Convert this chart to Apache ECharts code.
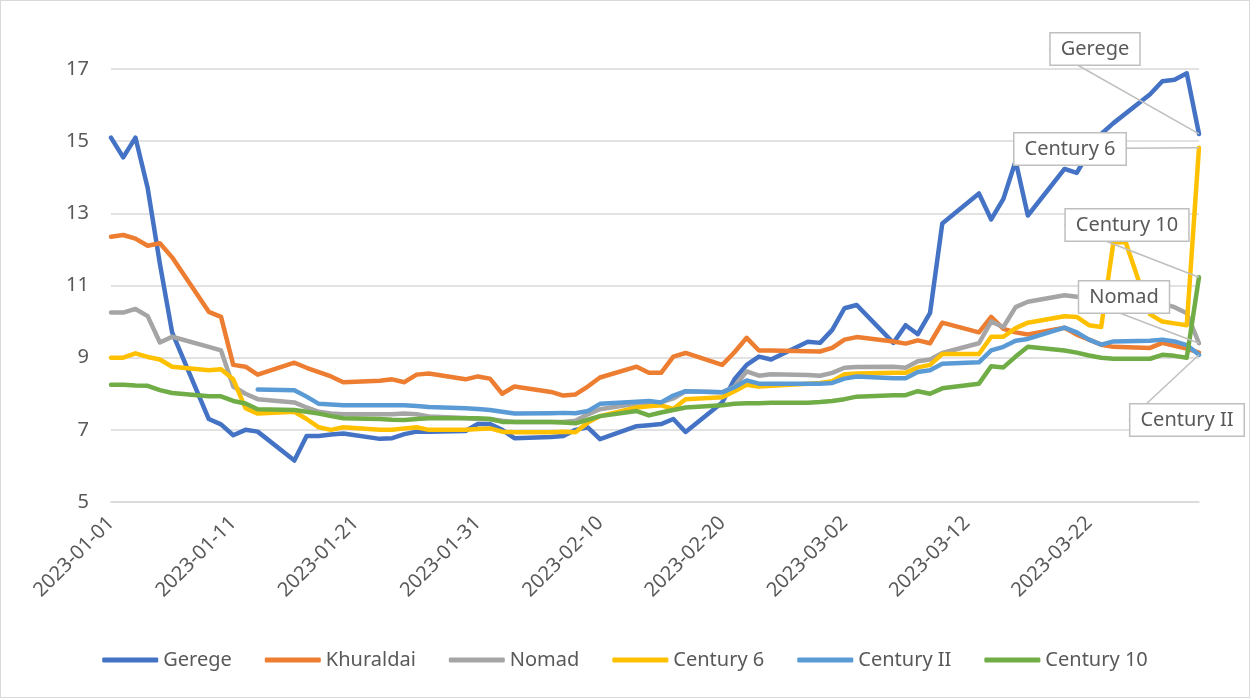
<!DOCTYPE html>
<html>
<head>
<meta charset="utf-8">
<script src="https://cdn.jsdelivr.net/npm/echarts@6/dist/echarts.min.js"></script>
<style>
  html, body { margin: 0; padding: 0; background: #fff; }
  #chart { width: 1250px; height: 698px; box-sizing: border-box; border: 1px solid #d9d9d9; }
</style>
</head>
<body>
<div id="chart"></div>
<script>
// trading days shown in the sheet
var dates = [
    '2023-01-01', '2023-01-02', '2023-01-03', '2023-01-04', '2023-01-05', '2023-01-06',
    '2023-01-09', '2023-01-10', '2023-01-11', '2023-01-12', '2023-01-13',
    '2023-01-16', '2023-01-17', '2023-01-18', '2023-01-19', '2023-01-20',
    '2023-01-23', '2023-01-24', '2023-01-25', '2023-01-26', '2023-01-27',
    '2023-01-30', '2023-01-31', '2023-02-01', '2023-02-02', '2023-02-03',
    '2023-02-06', '2023-02-07', '2023-02-08', '2023-02-09', '2023-02-10',
    '2023-02-13', '2023-02-14', '2023-02-15', '2023-02-16', '2023-02-17',
    '2023-02-20', '2023-02-21', '2023-02-22', '2023-02-23', '2023-02-24',
    '2023-02-27', '2023-02-28', '2023-03-01', '2023-03-02', '2023-03-03',
    '2023-03-06', '2023-03-07', '2023-03-08', '2023-03-09', '2023-03-10',
    '2023-03-13', '2023-03-14', '2023-03-15', '2023-03-16', '2023-03-17',
    '2023-03-20', '2023-03-21', '2023-03-22', '2023-03-23', '2023-03-24', '2023-03-25',
    '2023-03-27', '2023-03-28', '2023-03-29', '2023-03-30', '2023-03-31'
];

var gerege = [
    15.1, 14.55, 15.1, 13.7, 11.6, 9.7,
    7.3, 7.15, 6.85, 7.0, 6.95,
    6.15, 6.83, 6.83, 6.87, 6.9,
    6.75, 6.77, 6.88, 6.95, 6.95,
    6.97, 7.16, 7.16, 7.0, 6.77,
    6.8, 6.83, 7.0, 7.07, 6.74,
    7.1, 7.13, 7.16, 7.3, 6.94,
    7.76, 8.4, 8.8, 9.03, 8.95,
    9.44, 9.41, 9.77, 10.37, 10.46,
    9.41, 9.9, 9.65, 10.24, 12.72,
    13.55, 12.83, 13.4, 14.45, 12.94,
    14.23, 14.12, 14.7, 15.2, 15.5, null,
    16.3, 16.66, 16.7, 16.88, 15.2
];
var khuraldai = [
    12.35, 12.4, 12.3, 12.1, 12.17, 11.78,
    10.27, 10.13, 8.8, 8.75, 8.53,
    8.86, 8.72, 8.6, 8.48, 8.32,
    8.36, 8.4, 8.32, 8.53, 8.56,
    8.4, 8.48, 8.42, 8.0, 8.2,
    8.05, 7.95, 7.98, 8.2, 8.45,
    8.75, 8.58, 8.58, 9.03, 9.13,
    8.8, 9.15, 9.55, 9.2, 9.2,
    9.18, 9.17, 9.27, 9.5, 9.57,
    9.45, 9.39, 9.48, 9.4, 9.97,
    9.7, 10.13, 9.8, 9.7, 9.64,
    9.83, 9.64, 9.5, 9.36, 9.3, null,
    9.27, 9.41, 9.33, 9.25, 9.14
];
var nomad = [
    10.25, 10.25, 10.35, 10.15, 9.42, 9.58,
    9.3, 9.2, 8.2, 8.0, 7.85,
    7.76, 7.62, 7.5, 7.45, 7.43,
    7.43, 7.43, 7.45, 7.43, 7.37,
    7.33, 7.3, 7.3, 7.25, 7.22,
    7.22, 7.22, 7.25, 7.43, 7.57,
    7.73, 7.75, 7.76, 7.87, 8.07,
    8.04, 8.2, 8.62, 8.5, 8.54,
    8.52, 8.5, 8.58, 8.72, 8.74,
    8.75, 8.72, 8.9, 8.95, 9.13,
    9.4, 10.0, 9.85, 10.4, 10.55,
    10.73, 10.69, 10.65, 10.6, 10.6, null,
    10.55, 10.5, 10.4, 10.23, 9.4
];
var century6 = [
    9.0, 9.0, 9.12, 9.02, 8.95, 8.75,
    8.65, 8.68, 8.4, 7.6, 7.45,
    7.5, 7.3, 7.07, 7.0, 7.07,
    7.0, 7.0, 7.04, 7.07, 7.0,
    7.0, 7.02, 7.04, 6.95, 6.93,
    6.93, 6.95, 6.93, 7.2, 7.38,
    7.62, 7.65, 7.68, 7.58, 7.85,
    7.9, 8.07, 8.25, 8.2, 8.22,
    8.28, 8.3, 8.35, 8.54, 8.56,
    8.58, 8.58, 8.73, 8.8, 9.1,
    9.1, 9.58, 9.58, 9.82, 9.97,
    10.15, 10.13, 9.9, 9.85, 12.2, 12.2,
    10.2, 10.0, 9.95, 9.9, 14.82
];
var century2 = [
    null, null, null, null, null, null,
    null, null, null, null, 8.12,
    8.1, 7.92, 7.72, 7.7, 7.68,
    7.68, 7.68, 7.68, 7.66, 7.63,
    7.6, 7.58, 7.55, 7.5, 7.45,
    7.46, 7.47, 7.46, 7.52, 7.72,
    7.78, 7.8, 7.76, 7.95, 8.07,
    8.04, 8.18, 8.37, 8.28, 8.28,
    8.28, 8.28, 8.3, 8.42, 8.48,
    8.43, 8.43, 8.6, 8.65, 8.83,
    8.87, 9.2, 9.3, 9.47, 9.52,
    9.83, 9.7, 9.5, 9.36, 9.45, null,
    9.47, 9.5, 9.45, 9.35, 9.08
];
var century10 = [
    8.25, 8.25, 8.23, 8.22, 8.1, 8.02,
    7.93, 7.93, 7.8, 7.73, 7.57,
    7.55, 7.5, 7.45, 7.38, 7.32,
    7.3, 7.28, 7.27, 7.3, 7.32,
    7.32, 7.32, 7.3, 7.22, 7.22,
    7.22, 7.2, 7.18, 7.28, 7.38,
    7.52, 7.4, 7.48, 7.55, 7.62,
    7.68, 7.72, 7.74, 7.74, 7.75,
    7.75, 7.77, 7.8, 7.85, 7.92,
    7.96, 7.96, 8.07, 8.0, 8.15,
    8.28, 8.76, 8.73, 9.03, 9.3,
    9.2, 9.14, 9.06, 9.0, 8.97, null,
    8.97, 9.08, 9.05, 9.0, 11.23
];

var names = ['Gerege', 'Khuraldai', 'Nomad', 'Century 6', 'Century II', 'Century 10'];
var values = [gerege, khuraldai, nomad, century6, century2, century10];
var colors = ['#4472C4', '#ED7D31', '#A5A5A5', '#FFC000', '#5B9BD5', '#70AD47'];

// callout boxes (centre, px) for the series that carry one
var callouts = {
    'Gerege': [1094, 48],
    'Century 6': [1069, 148],
    'Century 10': [1126, 224],
    'Nomad': [1123, 296],
    'Century II': [1186, 419]
};

var DAY = 86400000;
var start = Date.UTC(2023, 0, 1);

function dayOf(s) {
    var p = s.split('-');
    return Math.round((Date.UTC(+p[0], +p[1] - 1, +p[2]) - start) / DAY);
}

function dateLabel(d) {
    var t = new Date(start + d * DAY);
    var m = t.getUTCMonth() + 1, dd = t.getUTCDate();
    return t.getUTCFullYear() + '-' + (m < 10 ? '0' + m : m) + '-' + (dd < 10 ? '0' + dd : dd);
}

var font = 'Noto Sans';
var textGrey = '#595959';

function buildSeries(name, vals, color) {
    var data = [];
    for (var i = 0; i < dates.length; i++) {
        if (vals[i] == null) continue;
        data.push([dayOf(dates[i]), vals[i]]);
    }
    var box = callouts[name];
    if (box) {
        var last = data[data.length - 1];
        data[data.length - 1] = {
            value: last,
            label: {
                show: true,
                formatter: name,
                fontFamily: font,
                fontSize: 20,
                color: textGrey,
                backgroundColor: '#fff',
                borderColor: '#BFBFBF',
                borderWidth: 1.5,
                padding: [6, 10, 5, 10],
                align: 'center',
                verticalAlign: 'middle'
            },
            labelLine: {
                show: true,
                lineStyle: { color: '#BFBFBF', width: 1.5 }
            }
        };
    }
    return {
        name: name,
        type: 'line',
        data: data,
        connectNulls: true,
        symbol: 'circle',
        symbolSize: 0,
        showSymbol: true,
        showAllSymbol: true,
        lineStyle: { color: color, width: 4.5, cap: 'round', join: 'round' },
        itemStyle: { color: color },
        emphasis: { disabled: true },
        labelLayout: box ? function () {
            return { x: box[0], y: box[1], align: 'center', verticalAlign: 'middle' };
        } : null
    };
}

var series = [];
for (var i = 0; i < names.length; i++) {
    series.push(buildSeries(names[i], values[i], colors[i]));
}

var myChart = echarts.init(document.getElementById('chart'));
myChart.setOption({
    animation: false,
    color: colors,
    textStyle: { fontFamily: font },
    grid: { left: 110, right: 50, top: 68, bottom: 195, containLabel: false },
    legend: {
        data: names,
        bottom: 22,
        left: 'center',
        icon: 'roundRect',
        itemWidth: 56,
        itemHeight: 5,
        itemGap: 33,
        textStyle: { fontFamily: font, fontSize: 20, color: textGrey }
    },
    xAxis: {
        type: 'value',
        min: 0,
        max: dayOf(dates[dates.length - 1]),
        interval: 10,
        axisLine: { show: true, lineStyle: { color: '#D9D9D9', width: 1.5 } },
        axisTick: { show: false },
        splitLine: { show: false },
        axisLabel: {
            rotate: 45,
            margin: 18,
            fontFamily: font,
            fontSize: 20,
            color: textGrey,
            showMaxLabel: false,
            formatter: dateLabel
        }
    },
    yAxis: {
        type: 'value',
        min: 5,
        max: 17,
        interval: 2,
        axisLine: { show: false },
        axisTick: { show: false },
        splitLine: { lineStyle: { color: '#D9D9D9', width: 1.5 } },
        axisLabel: { margin: 22, fontFamily: font, fontSize: 20, color: textGrey }
    },
    series: series
});
</script>
</body>
</html>
